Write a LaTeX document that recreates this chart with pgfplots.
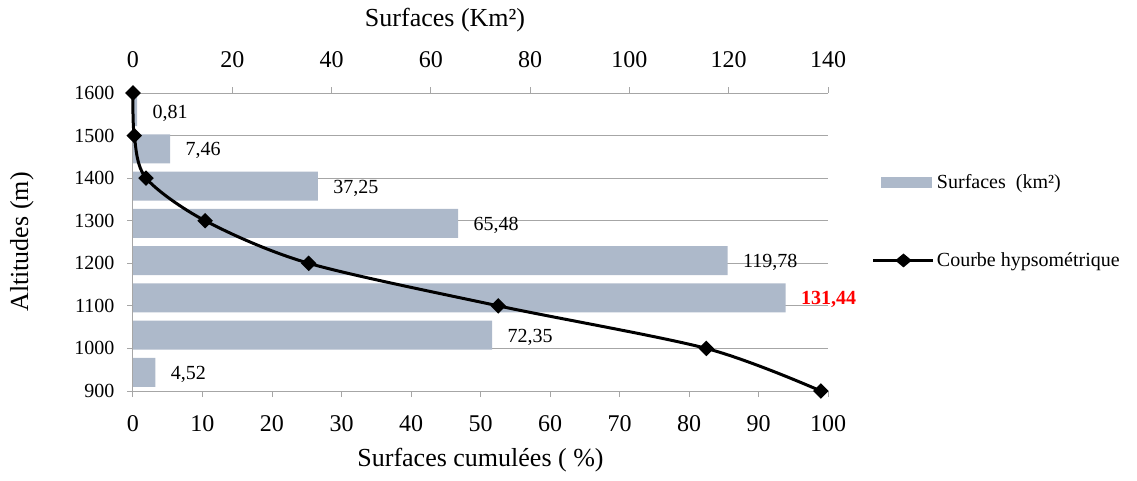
\documentclass[border=0pt]{standalone}
\usepackage{pgfplots}
\pgfplotsset{compat=1.18}
\usepackage{pgfplotstable}
\usepackage{fontspec}
\setmainfont{Liberation Serif}
\definecolor{barc}{RGB}{173,185,202}
\definecolor{gridc}{RGB}{166,166,166}

\pgfplotstableread{
y x lab
7.5 0.81 {0,81}
6.5 7.46 {7,46}
5.5 37.25 {37,25}
4.5 65.48 {65,48}
3.5 119.78 {119,78}
2.5 131.44 {\textcolor{red}{\textbf{131,44}}}
1.5 72.35 {72,35}
0.5 4.52 {4,52}
}\bars

\pgfplotstableread{
alt cum
1600 0
1500 0.18
1400 1.88
1300 10.37
1200 25.28
1100 52.56
1000 82.49
900 98.97
}\curve

\begin{document}
\begin{tikzpicture}
\useasboundingbox (-133pt,-89pt) rectangle (1004pt,391pt);
\pgfplotsset{every axis/.append style={scale only axis, width=695pt, height=298pt,
  /pgf/number format/assume math mode=true, /pgf/number format/1000 sep={}}}

% grid, bottom and left axes
\begin{axis}[
  xmin=0, xmax=100, ymin=900, ymax=1600,
  axis x line*=bottom, axis y line*=left,
  axis line style={gridc, line width=1pt},
  xtick={0,10,...,100}, ytick={900,1000,...,1600},
  tick align=outside, major tick length=6pt,
  tick style={gridc, line width=1pt},
  ymajorgrids, grid style={gridc, line width=1pt},
  xticklabel style={font=\fontsize{24}{24}\selectfont, yshift=-15pt},
  yticklabel style={font=\fontsize{20}{20}\selectfont, xshift=-9pt},
  xlabel={Surfaces cumulées ( \%)}, ylabel={Altitudes (m)},
  xlabel style={font=\fontsize{26}{26}\selectfont, at={(axis description cs:0.5,-0.232)}, anchor=center},
  ylabel style={font=\fontsize{26}{26}\selectfont, at={(axis description cs:-0.160,0.5)}, anchor=center},
]
\end{axis}

% bars, top axis
\begin{axis}[
  xmin=0, xmax=140, ymin=0, ymax=8,
  axis x line*=top, axis y line=none,
  axis line style={gridc, line width=1pt},
  xtick={0,20,...,140},
  tick align=outside, major tick length=6pt,
  tick style={gridc, line width=1pt},
  xticklabel style={font=\fontsize{24}{24}\selectfont, yshift=16pt},
  xbar, bar width=0.78,
  nodes near coords, point meta=explicit symbolic,
  nodes near coords style={anchor=west, font=\fontsize{20}{20}\selectfont, xshift=12pt, yshift=-2pt},
  xlabel={Surfaces (Km²)},
  xlabel style={font=\fontsize{26}{26}\selectfont, at={(axis description cs:0.449,1.246)}, anchor=center},
]
\addplot[fill=barc, draw=none] table[x=x, y=y, meta=lab]{\bars};
\end{axis}

% hypsometric curve + legend
\begin{axis}[
  xmin=0, xmax=100, ymin=900, ymax=1600,
  hide axis, clip=false,
  legend style={draw=none, fill=none, at={(axis description cs:1.063,0.735)}, anchor=north west,
    font=\fontsize{20}{20}\selectfont, row sep=59pt, inner sep=0pt,
    nodes={inner sep=2pt}},
  legend cell align=left,
]
\addlegendimage{legend image code/.code={\fill[barc] (8pt,-5pt) rectangle (58pt,5pt);}}
\addlegendentry{Surfaces\ \ (km²)}
\addplot[black, line width=3pt, smooth, mark=square*, mark size=4pt,
  mark options={rotate=45, solid},
  legend image code/.code={\draw[black, line width=3pt] (0pt,0pt) -- (60pt,0pt);
    \fill[black] (24pt,0pt) -- (30pt,5pt) -- (36pt,0pt) -- (30pt,-5pt) -- cycle;}]
  table[x=cum, y=alt]{\curve};
\addlegendentry{Courbe hypsométrique}
\end{axis}
\end{tikzpicture}
\end{document}
